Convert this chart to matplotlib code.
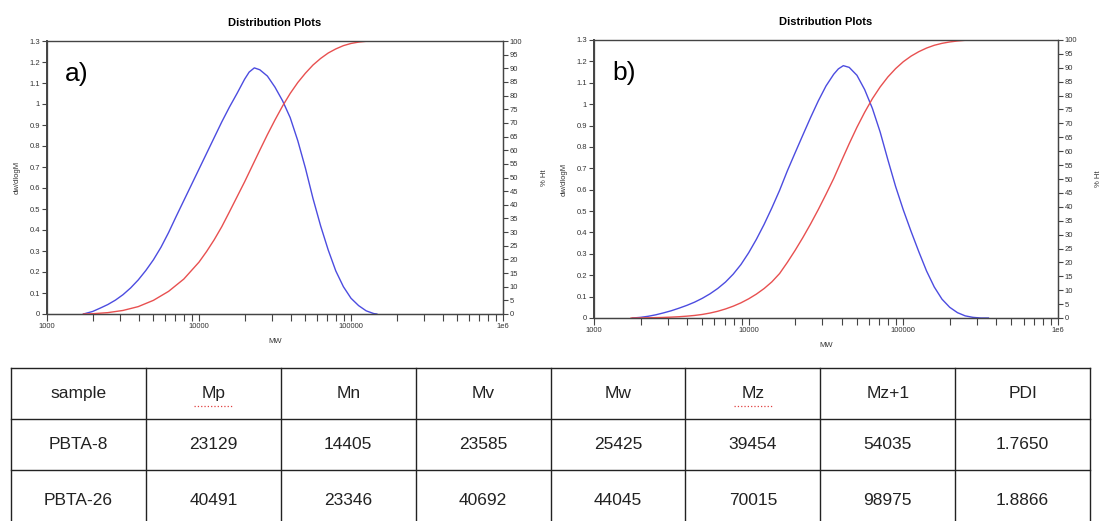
import numpy as np
import matplotlib
matplotlib.use("Agg")
import matplotlib.pyplot as plt
from matplotlib.ticker import LogLocator, NullFormatter

plt.rcParams['font.family'] = ['Liberation Sans', 'DejaVu Sans']

# values; MW given as log10(MW)
# a) PBTA-8
logmw_a_dw = [3.24, 3.30, 3.35, 3.40, 3.45, 3.50, 3.55, 3.60, 3.65, 3.70, 3.75, 3.80,
              3.85, 3.90, 3.95, 4.00, 4.05, 4.10, 4.15, 4.20, 4.25, 4.30, 4.33, 4.364,
              4.40, 4.45, 4.50, 4.55, 4.60, 4.65, 4.70, 4.75, 4.80, 4.85, 4.90, 4.95,
              5.00, 5.05, 5.10, 5.15, 5.17]
dw_a = [0, 0.012, 0.028, 0.045, 0.066, 0.092, 0.124, 0.162, 0.207, 0.258, 0.318, 0.388,
        0.465, 0.540, 0.615, 0.690, 0.765, 0.840, 0.915, 0.985, 1.050, 1.118, 1.152, 1.172,
        1.163, 1.133, 1.080, 1.015, 0.935, 0.825, 0.695, 0.550, 0.420, 0.305, 0.205, 0.130,
        0.075, 0.040, 0.015, 0.002, 0]
logmw_a_ht = [3.24, 3.30, 3.40, 3.50, 3.60, 3.70, 3.80, 3.90, 4.00, 4.05, 4.10, 4.15,
              4.20, 4.25, 4.30, 4.35, 4.40, 4.45, 4.50, 4.55, 4.60, 4.65, 4.70, 4.75,
              4.80, 4.85, 4.90, 4.95, 5.00, 5.05, 5.10, 5.17]
ht_a = [0, 0.1, 0.5, 1.3, 2.7, 5.0, 8.3, 12.8, 19.0, 22.9, 27.2, 32.0,
        37.4, 42.9, 48.4, 54.2, 60.0, 65.7, 71.1, 76.2, 80.8, 84.8, 88.2, 91.2,
        93.6, 95.6, 97.1, 98.3, 99.1, 99.6, 99.9, 100]

# b) PBTA-26
logmw_b_dw = [3.25, 3.30, 3.35, 3.40, 3.45, 3.50, 3.55, 3.60, 3.65, 3.70, 3.75, 3.80,
              3.85, 3.90, 3.95, 4.00, 4.05, 4.10, 4.15, 4.20, 4.25, 4.30, 4.35, 4.40,
              4.45, 4.50, 4.55, 4.58, 4.612, 4.65, 4.70, 4.75, 4.80, 4.85, 4.90, 4.95,
              5.00, 5.05, 5.10, 5.15, 5.20, 5.25, 5.30, 5.35, 5.40, 5.45, 5.50, 5.55]
dw_b = [0, 0.003, 0.008, 0.015, 0.024, 0.034, 0.046, 0.059, 0.074, 0.092, 0.113, 0.138,
        0.168, 0.205, 0.250, 0.305, 0.368, 0.438, 0.515, 0.597, 0.688, 0.772, 0.855, 0.937,
        1.015, 1.085, 1.140, 1.165, 1.180, 1.172, 1.135, 1.068, 0.980, 0.870, 0.740, 0.615,
        0.505, 0.405, 0.310, 0.220, 0.145, 0.088, 0.050, 0.025, 0.010, 0.003, 0, 0]
logmw_b_ht = [3.24, 3.30, 3.35, 3.40, 3.45, 3.50, 3.55, 3.60, 3.65, 3.70, 3.75, 3.80,
              3.85, 3.90, 3.95, 4.00, 4.05, 4.10, 4.15, 4.20, 4.25, 4.30, 4.35, 4.40,
              4.45, 4.50, 4.55, 4.60, 4.65, 4.70, 4.75, 4.80, 4.85, 4.90, 4.95, 5.00,
              5.05, 5.10, 5.15, 5.20, 5.25, 5.30, 5.35, 5.40, 5.45, 5.55]
ht_b = [0, 0.03, 0.08, 0.14, 0.21, 0.32, 0.46, 0.66, 0.92, 1.28, 1.78, 2.42,
        3.25, 4.25, 5.45, 6.9, 8.6, 10.6, 13.0, 16.0, 20.0, 24.3, 28.9, 33.8,
        39.0, 44.5, 50.2, 56.5, 62.7, 68.6, 74.0, 78.9, 83.1, 86.7, 89.7, 92.2,
        94.2, 95.8, 97.1, 98.1, 98.8, 99.3, 99.65, 99.9, 100, 100]

table_cols = ["sample", "Mp", "Mn", "Mv", "Mw", "Mz", "Mz+1", "PDI"]
table_rows = [["PBTA-8", "23129", "14405", "23585", "25425", "39454", "54035", "1.7650"],
              ["PBTA-26", "40491", "23346", "40692", "44045", "70015", "98975", "1.8866"]]
spell_marked = ["Mp", "Mz"]

W, H = 1102, 521
fig = plt.figure(figsize=(W / 100, H / 100), dpi=100)

blue = '#4c4ce0'
red = '#e85050'
axc = '#444444'


def draw_panel(rect, logmw_dw, dw, logmw_ht, ht, tag):
    ax = fig.add_axes(rect)
    ax2 = ax.twinx()
    ax.plot(10 ** np.array(logmw_dw), dw, color=blue, lw=1.0)
    ax2.plot(10 ** np.array(logmw_ht), ht, color=red, lw=1.0)
    ax.set_xscale('log')
    ax.set_xlim(1000, 1e6)
    ax.set_ylim(0, 1.3)
    ax2.set_ylim(0, 100)
    ax.set_xticks([1e3, 1e4, 1e5, 1e6])
    ax.set_xticklabels(["1000", "10000", "100000", "1e6"])
    ax.xaxis.set_minor_locator(LogLocator(base=10, subs=np.arange(2, 10)))
    ax.xaxis.set_minor_formatter(NullFormatter())
    yt = np.round(np.arange(0, 1.31, 0.1), 1)
    ax.set_yticks(yt)
    ax.set_yticklabels(["%g" % v for v in yt])
    ax2.set_yticks(np.arange(0, 101, 5))
    for a in (ax, ax2):
        a.tick_params(axis='both', which='both', labelsize=5.5, colors=axc,
                      labelcolor='#333333', width=0.8, pad=1.5)
        a.tick_params(axis='x', which='both', length=5)
        a.tick_params(axis='y', length=3.5)
        for s in a.spines.values():
            s.set_color(axc)
            s.set_linewidth(0.9)
    ax.spines['left'].set_linewidth(1.4)
    ax.spines['top'].set_color('#888888')
    ax.set_title("Distribution Plots", fontsize=8, fontweight='bold', pad=11)
    ax.set_xlabel("MW", fontsize=5.5, color='#333333', labelpad=6)
    ax.set_ylabel("dw/dlogM", fontsize=5.5, color='#333333', labelpad=6)
    ax2.set_ylabel("% Ht", fontsize=5.5, color='#333333', labelpad=13)
    ax.text(0.04, 0.88, tag, transform=ax.transAxes, fontsize=19, va='center')


draw_panel([47 / W, 207 / H, 456 / W, 273 / H], logmw_a_dw, dw_a, logmw_a_ht, ht_a, "a)")
draw_panel([594 / W, 203 / H, 464 / W, 278 / H], logmw_b_dw, dw_b, logmw_b_ht, ht_b, "b)")

# table at the bottom, last row cut off by the figure edge
ax_t = fig.add_axes([11 / W, 0, 1079 / W, 153 / H])
ax_t.set_xlim(0, len(table_cols))
ax_t.set_ylim(3.0, 0)
ax_t.axis('off')
row_edges = [0, 1, 2, 3.2]
for y in row_edges[:-1]:
    ax_t.plot([0, len(table_cols)], [y, y], color='#222222', lw=1.0, clip_on=False)
for x in range(len(table_cols) + 1):
    ax_t.plot([x, x], [0, 3.2], color='#222222', lw=1.0, clip_on=False)
all_rows = [table_cols] + table_rows
for r, row in enumerate(all_rows):
    yc = (row_edges[r] + row_edges[r + 1]) / 2
    for c, txt in enumerate(row):
        ax_t.text(c + 0.5, yc, txt, ha='center', va='center', fontsize=12.5, color='#222222')
        if r == 0 and txt in spell_marked:
            # word's spell-check squiggle under the header
            ax_t.plot([c + 0.36, c + 0.64], [0.74, 0.74], color='#e04040', lw=0.9, ls=':')

fig.savefig("out.png", dpi=100)
